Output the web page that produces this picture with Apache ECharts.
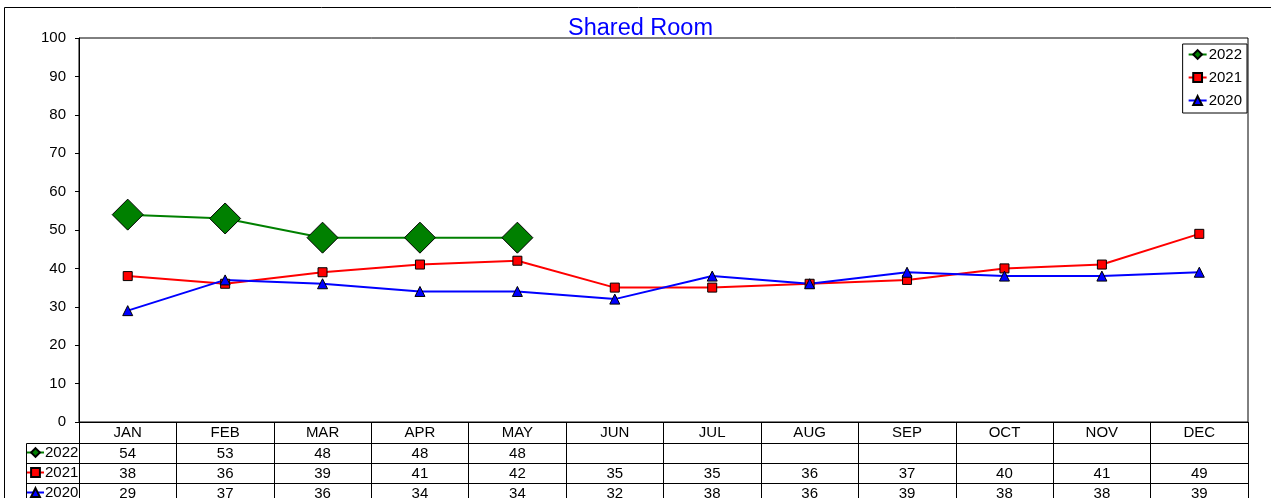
<!DOCTYPE html>
<html>
<head>
<meta charset="utf-8">
<script src="https://cdn.jsdelivr.net/npm/echarts@6/dist/echarts.min.js"></script>
<style>
  html, body { margin: 0; padding: 0; background: #fff; }
  #chart { width: 1271px; height: 498px; }
</style>
</head>
<body>
<div id="chart"></div>
<script>
// data
var months = ['JAN', 'FEB', 'MAR', 'APR', 'MAY', 'JUN', 'JUL', 'AUG', 'SEP', 'OCT', 'NOV', 'DEC'];
var y2022 = [54, 53, 48, 48, 48, null, null, null, null, null, null, null];
var y2021 = [38, 36, 39, 41, 42, 35, 35, 36, 37, 40, 41, 49];
var y2020 = [29, 37, 36, 34, 34, 32, 38, 36, 39, 38, 38, 39];
var yTicks = [0, 10, 20, 30, 40, 50, 60, 70, 80, 90, 100];

var font = 'Arial, "Liberation Sans", sans-serif';
var fs = 15;
var gridLeft = 79, gridRight = 23, gridTop = 38, gridBottom = 76;
var rowH = 20;

function rowText(arr) {
  return arr.map(function (v) { return v == null ? '' : String(v); });
}

function tableAxis(data, offset, len) {
  return {
    type: 'category',
    data: data,
    position: 'bottom',
    offset: offset,
    boundaryGap: true,
    axisLine: { show: true, lineStyle: { color: '#000', width: 1 } },
    axisTick: { show: true, interval: 0, length: len, lineStyle: { color: '#000', width: 1 } },
    axisLabel: { interval: 0, margin: 3, color: '#000', fontSize: fs, fontFamily: font },
    splitLine: { show: false }
  };
}

var chartDom = document.getElementById('chart');
var myChart = echarts.init(chartDom);

var rowLegend = function (name, idx) {
  return {
    data: [name],
    left: 26,
    top: 422 + rowH * (idx + 1) + 3,
    orient: 'horizontal',
    padding: 0,
    itemWidth: 17,
    itemHeight: 11,
    itemGap: 0,
    selectedMode: false,
    textStyle: { fontSize: fs, fontFamily: font, color: '#000', padding: [0, 0, 0, -4] }
  };
};

var option = {
  animation: false,
  backgroundColor: '#fff',
  title: {
    text: 'Shared Room',
    left: 568,
    top: 17,
    padding: 0,
    textStyle: { color: '#0000ff', fontSize: 23.5, fontWeight: 'normal', fontFamily: font }
  },
  legend: [
    {
      data: ['2022', '2021', '2020'],
      orient: 'vertical',
      right: 24,
      top: 44,
      padding: [3, 5, 5, 5],
      itemGap: 8,
      itemWidth: 18,
      itemHeight: 11,
      backgroundColor: '#fff',
      borderColor: '#000',
      borderWidth: 1,
      borderRadius: 0,
      selectedMode: false,
      textStyle: { fontSize: fs, fontFamily: font, color: '#000', padding: [0, 0, 0, -3] }
    },
    rowLegend('2022', 0),
    rowLegend('2021', 1),
    rowLegend('2020', 2)
  ],
  grid: {
    left: gridLeft,
    right: gridRight,
    top: gridTop,
    bottom: gridBottom,
    outerBoundsMode: 'none',
    containLabel: false,
    show: true,
    borderColor: '#000',
    borderWidth: 1,
    backgroundColor: '#fff'
  },
  xAxis: [
    tableAxis(months, 0, 21),
    tableAxis(rowText(y2022), 21, 20),
    tableAxis(rowText(y2021), 41, 20),
    tableAxis(rowText(y2020), 61, 20)
  ],
  yAxis: {
    type: 'value',
    min: 0,
    max: 100,
    interval: 10,
    axisLine: { show: true, lineStyle: { color: '#000', width: 1 } },
    axisTick: { show: true, length: 4, lineStyle: { color: '#000' } },
    axisLabel: {
      margin: 13,
      color: '#000',
      fontSize: fs,
      fontFamily: font,
      customValues: yTicks
    },
    splitLine: { show: false }
  },
  series: [
    {
      name: '2022',
      type: 'line',
      data: y2022,
      color: '#008000',
      symbol: 'diamond',
      symbolSize: 31,
      lineStyle: { width: 2, color: '#008000' },
      itemStyle: { color: '#008000', borderColor: '#000', borderWidth: 1 }
    },
    {
      name: '2021',
      type: 'line',
      data: y2021,
      color: '#ff0000',
      symbol: 'rect',
      symbolSize: 9,
      lineStyle: { width: 2, color: '#ff0000' },
      itemStyle: { color: '#ff0000', borderColor: '#000', borderWidth: 1 }
    },
    {
      name: '2020',
      type: 'line',
      data: y2020,
      color: '#0000ff',
      symbol: 'triangle',
      symbolSize: 10,
      lineStyle: { width: 2, color: '#0000ff' },
      itemStyle: { color: '#0000ff', borderColor: '#000', borderWidth: 1 }
    }
  ],
  graphic: [
    // outer chart border (only left and top are in view)
    {
      type: 'rect',
      shape: { x: 4.5, y: 7.5, width: 1290, height: 520 },
      style: { fill: null, stroke: '#000', lineWidth: 1 },
      silent: true,
      z: -10
    },
    // row-header column of the data table
    {
      type: 'polyline',
      shape: { points: [[79, 443.5], [26.5, 443.5], [26.5, 520]] },
      style: { fill: null, stroke: '#000', lineWidth: 1 },
      silent: true
    },
    {
      type: 'line',
      shape: { x1: 26.5, y1: 463.5, x2: 79, y2: 463.5 },
      style: { stroke: '#000', lineWidth: 1 },
      silent: true
    },
    {
      type: 'line',
      shape: { x1: 26.5, y1: 483.5, x2: 79, y2: 483.5 },
      style: { stroke: '#000', lineWidth: 1 },
      silent: true
    }
  ]
};

option && myChart.setOption(option);
</script>
</body>
</html>
